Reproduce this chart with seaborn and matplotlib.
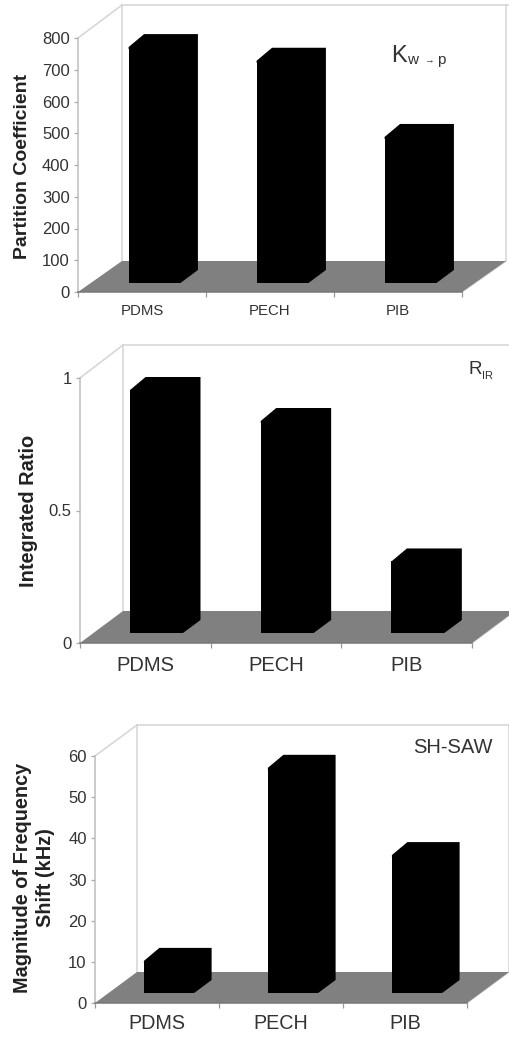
import pandas as pd
import matplotlib
matplotlib.use('Agg')
import matplotlib.pyplot as plt
import seaborn as sns
from matplotlib.patches import Polygon
from matplotlib.lines import Line2D
from matplotlib.transforms import Affine2D, IdentityTransform

W, H = 509, 1037

polymers = ['PDMS', 'PECH', 'PIB']
kwp_values = [743, 700, 460]
ratio_values = [0.917, 0.80, 0.27]
saw_values = [7.8, 54.7, 33.5]

kwp_ticks = [0, 100, 200, 300, 400, 500, 600, 700, 800]
ratio_ticks = [0, 0.5, 1]
saw_ticks = [0, 10, 20, 30, 40, 50, 60]

sns.set_style('white')
plt.rcParams['font.family'] = ['Liberation Sans', 'DejaVu Sans']

fig = plt.figure(figsize=(W / 100, H / 100), dpi=100, facecolor='white')


def panel(values, ticks, tick_labels, ylabel, box, depth, wall_top, shift, raise_px,
          xsize, label_x, label_y, label_size, xpad, linespacing=1.15):
    x0, x1, y0, ytop = box
    ax = fig.add_axes([x0 / W, 1 - y0 / H, (x1 - x0) / W, (y0 - ytop) / H])
    ax.patch.set_alpha(0)
    df = pd.DataFrame({'polymer': polymers, 'value': values})
    sns.barplot(data=df, x='polymer', y='value', color='black', width=0.405,
                saturation=1, ax=ax, zorder=3)
    ax.set_xlim(-0.5, 2.5)
    ax.set_ylim(ticks[0], ticks[-1])

    # floor and back wall, in pixels
    dx, dy = depth
    b = H - y0
    top_wall = H - wall_top
    none = IdentityTransform()
    ax.add_patch(Polygon([(x0, b), (x1, b), (x1 + dx, b + dy), (x0 + dx, b + dy)],
                         closed=True, fc='#808080', ec='none', transform=none,
                         clip_on=False, zorder=1))
    wall = '#d4d4d4'
    t = H - ytop
    for xs, ys in [([x0, x0 + dx], [t, top_wall]),
                   ([x0 + dx, x0 + dx], [b + dy, top_wall]),
                   ([x0 + dx, W + 5], [top_wall, top_wall]),
                   ([x1 + dx, x1 + dx], [b + dy, top_wall]),
                   ([x1, x1 + dx], [b, b + dy])]:
        ax.add_line(Line2D(xs, ys, color=wall, lw=1.1, transform=none, clip_on=False, zorder=0.5))

    # bars pushed into the floor, then extruded
    bar_dx, bar_dy = 17.5, 13
    shifted = ax.transData + Affine2D().translate(shift, raise_px)
    for bar in list(ax.containers[0]):
        bar.set_transform(shifted)
        bar.set_clip_on(False)
        bar.set_edgecolor('none')
        xa, xb = bar.get_x(), bar.get_x() + bar.get_width()
        h = bar.get_height()
        (ax_, ay), (bx, by) = shifted.transform([(xa, h), (xb, h)])
        (cx, cy) = shifted.transform((xb, 0))
        # reach 2px into the front face so no seam shows between the two shapes
        ax.add_patch(Polygon([(ax_, ay), (ax_ + bar_dx - 2, ay + bar_dy), (bx + bar_dx, by + bar_dy),
                              (cx + bar_dx, cy + bar_dy), (cx, cy), (cx - 2, cy), (bx - 2, by - 2),
                              (ax_, by - 2)],
                             closed=True, fc='black', ec='none', transform=none,
                             clip_on=False, zorder=3))

    ax.set_yticks(ticks)
    ax.set_yticklabels(tick_labels, fontsize=12, color='#333333')
    ax.set_xlabel('')
    ax.set_xticks(range(3))
    ax.set_xticklabels(polymers, fontsize=xsize, color='#333333')
    ax.set_xticks([-0.5, 0.5, 1.5, 2.5], minor=True)
    ax.tick_params(axis='x', which='major', length=0, pad=xpad)
    ax.tick_params(axis='x', which='minor', length=3.5, width=0.9, color='#999999', bottom=True)
    ax.tick_params(axis='y', length=3, width=0.9, color='#aaaaaa', pad=3, left=True)
    for s in ['top', 'right']:
        ax.spines[s].set_visible(False)
    ax.spines['left'].set_color('#bdbdbd')
    ax.spines['left'].set_linewidth(1.1)
    ax.spines['bottom'].set_color('#777777')
    ax.spines['bottom'].set_linewidth(1.1)
    ax.set_ylabel(ylabel, fontsize=label_size, fontweight='bold', color='#222222',
                  va='center', ha='center', linespacing=linespacing)
    ax.yaxis.set_label_coords(label_x, H - label_y, transform=none)
    return ax


panel(kwp_values, kwp_ticks, [str(v) for v in kwp_ticks], 'Partition Coefficient',
      (78, 462, 292, 38), (44, 31), 5, 12.5, 9, 10.8, 23, 166, 14, 8.5)
panel(ratio_values, ratio_ticks, ['0', '0.5', '1'], 'Integrated Ratio',
      (80, 472, 643, 378), (43, 32), 345, 11.2, 10, 14.5, 29, 511, 14.4, 9.2)
panel(saw_values, saw_ticks, [str(v) for v in saw_ticks], 'Magnitude of Frequency\nShift (kHz)',
      (95, 467, 1003, 756), (42, 31), 725, 12, 10, 14.2, 34, 878, 14.3, 8, 1.3)


def label(x, y, s, size):
    fig.text(x / W, 1 - y / H, s, fontsize=size, color='#333333', va='baseline', ha='left')


label(391, 62, 'K', 17)
label(407, 64, 'w', 11)
label(424, 63, '\u2192', 7)
label(437, 64, 'p', 11)
label(468, 374, 'R', 13.5)
label(482, 379, 'IR', 8)
label(413, 753, 'SH-SAW', 14.5)

fig.savefig('out.png', dpi=100)
